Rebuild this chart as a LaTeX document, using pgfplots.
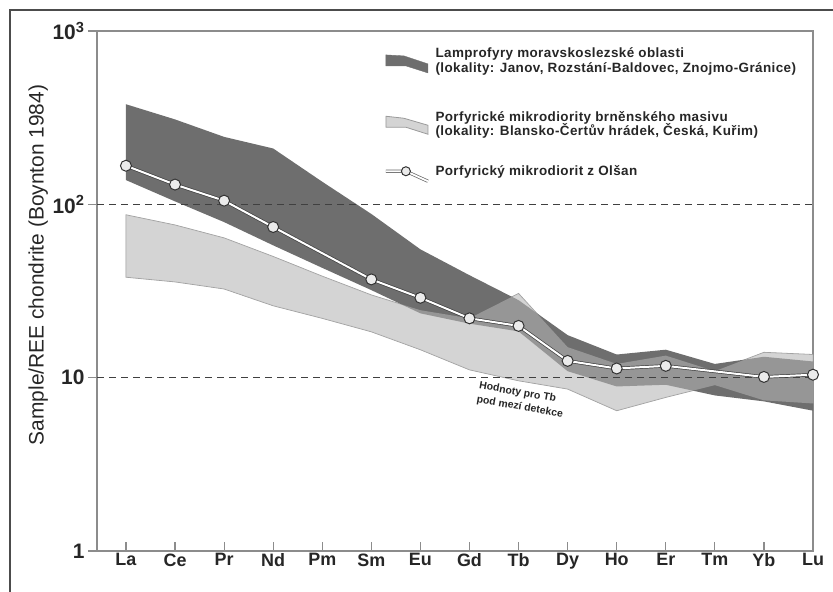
\documentclass[border=0pt]{standalone}
\usepackage{pgfplots}
\pgfplotsset{compat=1.18}
\usepackage{pgfplotstable}
\usepgfplotslibrary{fillbetween}
\usepackage{fontspec}
\setmainfont{Liberation Sans}
\newfontfamily\legfont[LetterSpace=3]{Liberation Sans}
\definecolor{darkband}{HTML}{6E6E6E}
\definecolor{lightband}{HTML}{D4D4D4}
\definecolor{lightedge}{HTML}{9A9A9A}
\definecolor{axisgray}{HTML}{8C8C8C}
\definecolor{gridgray}{HTML}{404040}

\pgfplotstableread{
x uD lD uL lL
0 378 138 87 38
1 309 104 76 35.7
2 245 79 64 32.5
3 210 58 50 26
4 135 43 38.5 22
5 88 32 30 18.4
6 55 23.5 24.5 14.5
7 39 20.5 22 11.1
8 28 18.5 30.6 9.6
9 17.6 10.9 15.0 8.6
10 13.6 8.9 12.0 6.45
11 14.5 9.1 13.4 7.7
12 12.0 7.9 10.9 9.06
13 13.2 7.3 14.0 7.4
14 12.4 6.45 13.6 7.1
}\bands

\pgfplotstableread{
x y
0 167
1 130
2 105
3 74
5 36.9
6 28.9
7 22.0
8 19.9
9 12.5
10 11.3
11 11.7
13 10.1
14 10.4
}\olsan

\begin{document}
\begin{tikzpicture}
\begin{axis}[
  at={(97bp,-551bp)}, anchor=south west,
  scale only axis, width=716bp, height=520bp,
  ymode=log, ymin=1, ymax=1000, xmin=-0.59, xmax=14,
  axis line style={axisgray, line width=1.6bp},
  xtick={0,...,14},
  xticklabels={La,Ce,Pr,Nd,Pm,Sm,Eu,Gd,Tb,Dy,Ho,Er,Tm,Yb,Lu},
  ytick={1,10,100,1000},
  yticklabels={1,10,10\textsuperscript{2},10\textsuperscript{3}},
  yminorticks=false,
  xtick pos=bottom, ytick pos=left,
  xtick align=inside, ytick align=outside,
  major tick length=9bp,
  tick style={axisgray, line width=1.2bp},
  /pgf/number format/assume math mode=true,
  xticklabel style={font=\bfseries\fontsize{18}{20}\selectfont, text=black!85, yshift=1bp},
  yticklabel style={font=\bfseries\fontsize{21}{23}\selectfont, text=black!85},
  ylabel={Sample/REE chondrite (Boynton 1984)},
  ylabel style={font=\fontsize{21}{24}\selectfont, text=black!85, at={(axis description cs:-0.082,0.55)}, anchor=center},
  legend style={at={(axis description cs:0.401,0.972)}, anchor=north west, draw=none, fill=none,
    inner sep=0pt, row sep=24bp,
    font=\legfont\bfseries\fontsize{13.5}{15}\selectfont, text=black!85,
    cells={anchor=west, align=left},
    /tikz/every odd column/.append style={column sep=4bp}},
  legend cell align=left,
]
\addplot[draw=none, name path=uD, forget plot] table[x=x,y=uD]{\bands};
\addplot[draw=none, name path=lD, forget plot] table[x=x,y=lD]{\bands};
\addplot[draw=none, name path=uL, forget plot] table[x=x,y=uL]{\bands};
\addplot[draw=none, name path=lL, forget plot] table[x=x,y=lL]{\bands};
% light band
\addplot[fill=lightband, draw=lightedge, line width=0.8bp, forget plot] fill between[of=uL and lL];
% dashed reference lines
\addplot[gridgray, line width=1.2bp, dash pattern=on 7bp off 5bp, forget plot] coordinates {(-0.59,10) (14,10)};
\addplot[gridgray, line width=1.2bp, dash pattern=on 7bp off 5bp, forget plot] coordinates {(-0.59,100) (14,100)};
% dark band
\addplot[fill=darkband, draw=none, forget plot] fill between[of=uD and lD];
% overlap shading
\addplot[fill=lightband, fill opacity=0.4, draw=none, forget plot] fill between[of=uL and lL];
% Olsan sample
\addplot[black!75, line width=3.4bp, forget plot] table[x=x,y=y]{\olsan};
\addplot[white, line width=2bp, mark=*, mark size=5.5bp,
  mark options={draw=black!80, fill=black!8, line width=1bp}, forget plot] table[x=x,y=y]{\olsan};

\node[rotate=-10, font=\bfseries\fontsize{10.5}{14}\selectfont, text=black!85, align=left, anchor=center]
  at (axis cs:8.05,7.4) {Hodnoty pro Tb\\pod mezí detekce};

\addlegendimage{legend image code/.code={
  \fill[darkband] (0bp,6bp) -- (18bp,5bp) -- (42bp,-3bp) -- (42bp,-12bp) -- (20bp,-5bp) -- (0bp,-5bp) -- cycle;}}
\addlegendentry{Lamprofyry moravskoslezské oblasti\\(lokality: Janov, Rozstání-Baldovec, Znojmo-Gránice)}
\addlegendimage{legend image code/.code={
  \path (0bp,24bp);
  \filldraw[fill=lightband, draw=lightedge, line width=0.8bp] (0bp,8bp) -- (18bp,6bp) -- (42bp,-1bp) -- (42bp,-10bp) -- (20bp,-3bp) -- (0bp,-3bp) -- cycle;}}
\addlegendentry{Porfyrické mikrodiority brněnského masivu\\(lokality: Blansko-Čertův hrádek, Česká, Kuřim)}
\addlegendimage{legend image code/.code={
  \draw[black!60, line width=3.2bp] (0bp,0bp) -- (20bp,0bp) -- (42bp,-10bp);
  \draw[white, line width=1.8bp] (0bp,0bp) -- (20bp,0bp) -- (42bp,-10bp);
  \filldraw[fill=black!8, draw=black!80, line width=1bp] (20bp,0bp) circle (4.5bp);}}
\addlegendentry{Porfyrický mikrodiorit z Olšan}
\end{axis}
\pgfresetboundingbox
\useasboundingbox (0,0) rectangle (833bp,-592bp);
\draw[line width=2.5bp, black!70] (10bp,-592bp) -- (10bp,-10bp) -- (833bp,-10bp);
\end{tikzpicture}
\end{document}
